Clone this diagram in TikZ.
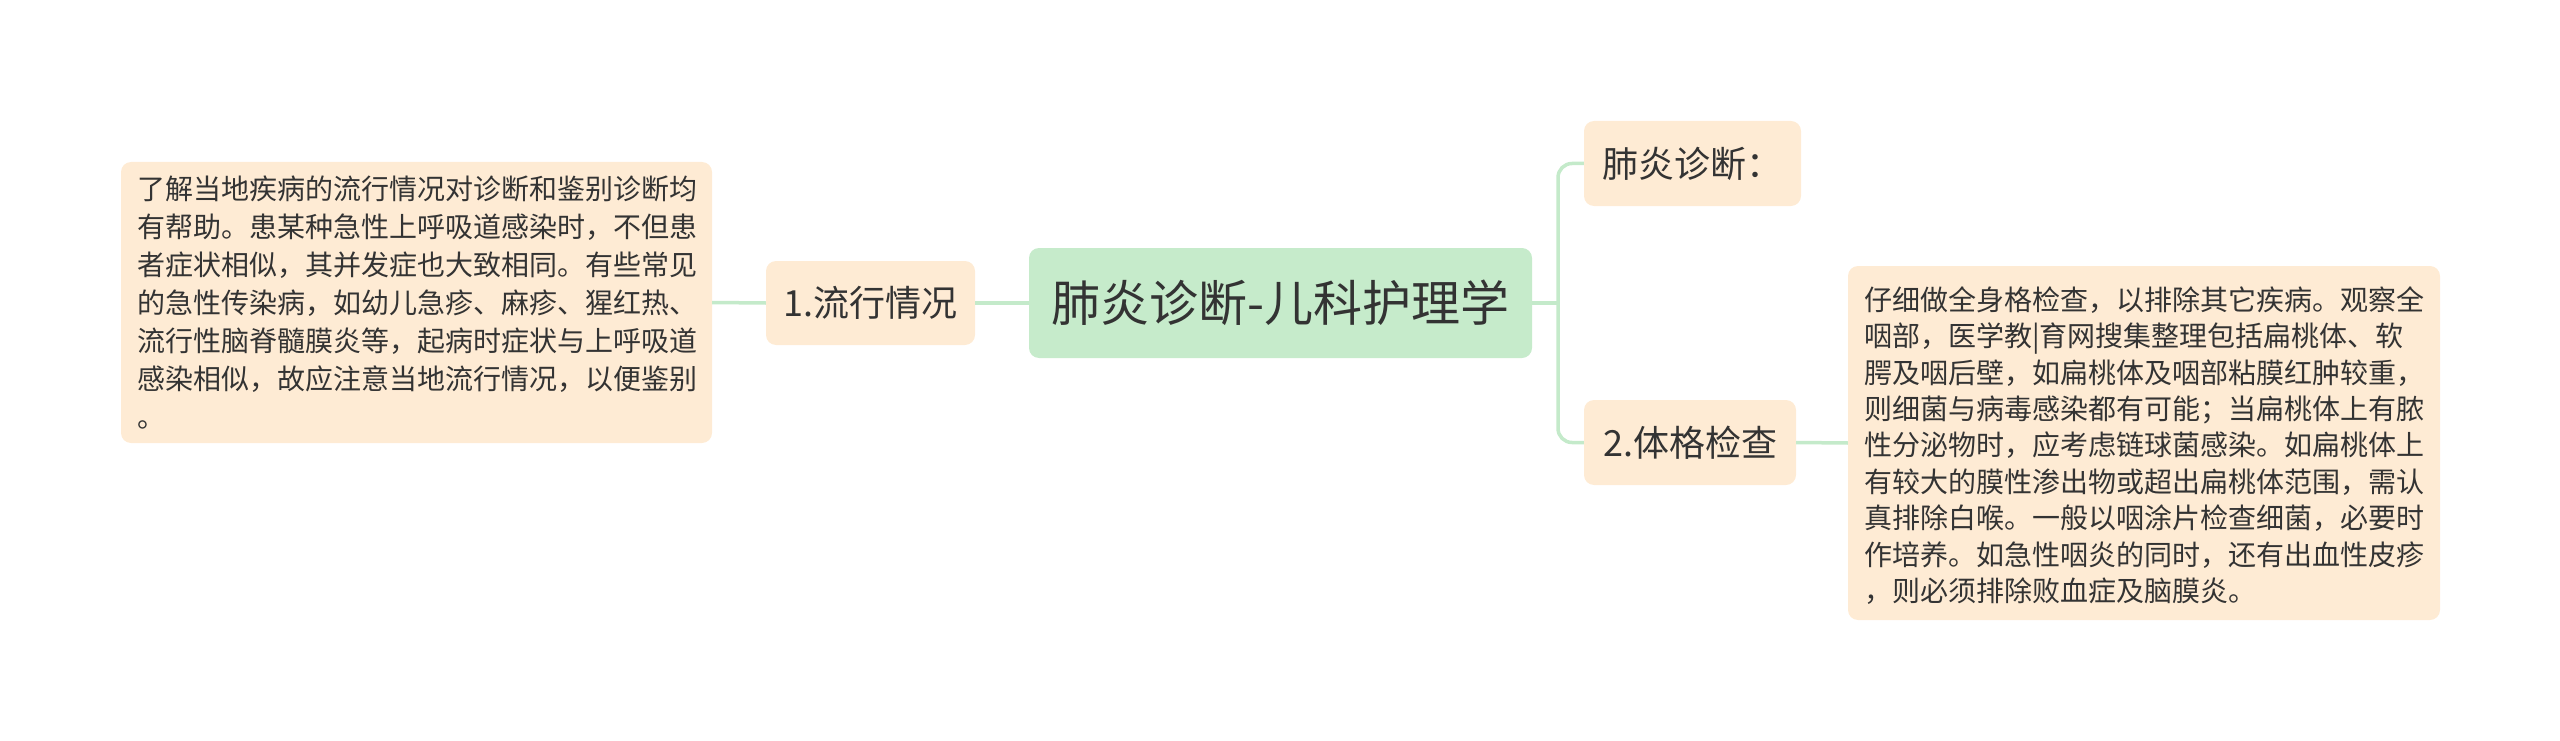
\documentclass[tikz,border=0pt]{standalone}
\usepackage{fontspec}
\setmainfont{Noto Sans CJK SC}
\definecolor{linegreen}{HTML}{C4EACA}
\definecolor{rootfill}{HTML}{C6EBCB}
\definecolor{leaffill}{HTML}{FEEBD4}
\definecolor{txt}{HTML}{333333}
\tikzset{
  box/.style={rectangle, rounded corners=10pt, inner sep=0pt, text=txt},
  rootbox/.style={box, fill=rootfill, minimum width=503pt, minimum height=110pt, font=\fontsize{49}{54}\selectfont},
  subbox/.style={box, fill=leaffill, font=\fontsize{36}{42}\selectfont},
  textbox/.style={box, fill=leaffill},
  para/.style={inner sep=0pt, align=left, text=txt},
  conn/.style={draw=linegreen, line width=3.5pt, rounded corners=14pt}
}
\begin{document}
\begin{tikzpicture}[x=1pt,y=-1pt]
\useasboundingbox (0,0) rectangle (2560,741);
\node[rootbox] (root) at (1280.5,303) {肺炎诊断-儿科护理学};
\node[subbox, minimum width=209pt, minimum height=84pt] (n1) at (870.5,303) {1.流行情况};
\node[textbox, minimum width=591pt, minimum height=281pt] (t1) at (416.5,302.5) {};
\node[para, font=\fontsize{28}{38}\selectfont, anchor=west] (t1txt) at (137,303) {了解当地疾病的流行情况对诊断和鉴别诊断均\\有帮助。患某种急性上呼吸道感染时，不但患\\者症状相似，其并发症也大致相同。有些常见\\的急性传染病，如幼儿急疹、麻疹、猩红热、\\流行性脑脊髓膜炎等，起病时症状与上呼吸道\\感染相似，故应注意当地流行情况，以便鉴别\\。};
\node[subbox, minimum width=217pt, minimum height=85pt] (b1) at (1692.5,163.5) {肺炎诊断：};
\node[subbox, minimum width=212pt, minimum height=85pt] (b2) at (1690,442.5) {2.体格检查};
\node[textbox, minimum width=592pt, minimum height=354pt] (t2) at (2144,443) {};
\node[para, font=\fontsize{28}{36.4}\selectfont, anchor=west] (t2txt) at (1864,445.5) {仔细做全身格检查，以排除其它疾病。观察全\\咽部，医学教|育网搜集整理包括扁桃体、软\\腭及咽后壁，如扁桃体及咽部粘膜红肿较重，\\则细菌与病毒感染都有可能；当扁桃体上有脓\\性分泌物时，应考虑链球菌感染。如扁桃体上\\有较大的膜性渗出物或超出扁桃体范围，需认\\真排除白喉。一般以咽涂片检查细菌，必要时\\作培养。如急性咽炎的同时，还有出血性皮疹\\，则必须排除败血症及脑膜炎。};
\coordinate (j) at (1558,303);
\draw[conn] (root.west) -- (n1.east);
\draw[conn] (n1.west) -- (t1.east);
\draw[conn] (root.east) -- (j);
\draw[conn] (j) |- (b1.west);
\draw[conn] (j) |- (b2.west);
\draw[conn] (b2.east) -- (t2.west);
\end{tikzpicture}
\end{document}
